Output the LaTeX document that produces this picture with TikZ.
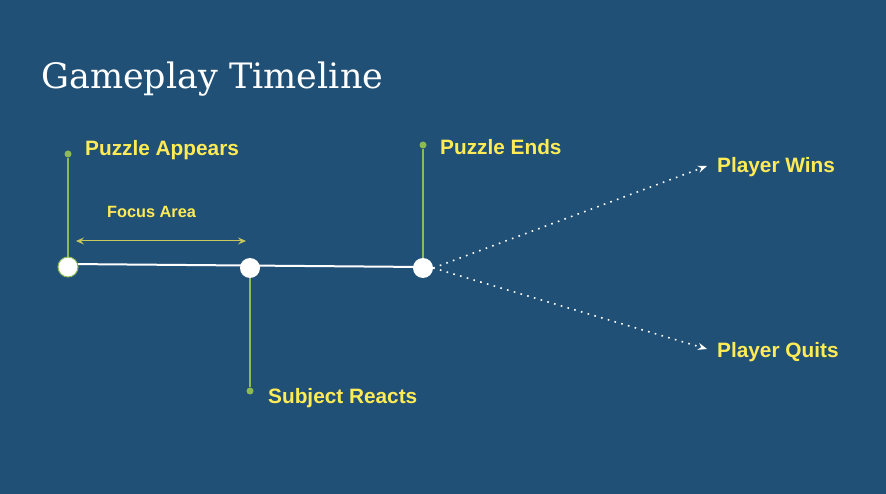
\documentclass[tikz,border=0pt]{standalone}
\usepackage{fontspec}
\setmainfont{DejaVu Serif}
\newfontfamily\labelfont{Liberation Sans}
\usetikzlibrary{arrows.meta}
\definecolor{bg}{RGB}{33,80,118}
\definecolor{ylw}{RGB}{255,235,85}
\definecolor{grn}{RGB}{141,185,87}
\definecolor{olv}{RGB}{200,200,95}
\tikzset{
  lbl/.style={anchor=west,inner sep=0pt,text=ylw,font=\labelfont\bfseries\fontsize{20.8}{24}\selectfont},
  small/.style={anchor=west,inner sep=0pt,text=ylw,font=\labelfont\bfseries\fontsize{16.3}{18}\selectfont},
  ev/.style={circle,fill=white,minimum size=20pt,inner sep=0pt},
  dotp/.style={circle,fill=grn,minimum size=7pt,inner sep=0pt},
  stem/.style={draw=grn,line width=1.8pt},
  dots/.style={draw=white,line width=1.6pt,dash pattern=on 1.6pt off 5.4pt,-{Stealth[length=9pt,width=7pt]}},
}
\begin{document}
\begin{tikzpicture}[x=1pt,y=-1pt]
\fill[bg] (0,0) rectangle (886,494);
\useasboundingbox (0,0) rectangle (886,494);
\node[anchor=west,inner sep=0pt,text=white,font=\fontsize{35}{40}\selectfont] (title) at (41,79) {Gameplay Timeline};
% dots at stem ends
\node[dotp] (pa) at (68,154) {};
\node[dotp] (sr) at (250,391) {};
\node[dotp] (pe) at (423,145) {};
% event points
\coordinate (la) at (68,264);
\coordinate (lc) at (423,267);
\draw[stem] (pa) -- (68,267);
\draw[stem] (sr) -- (250,268);
\draw[stem] (pe) -- (423,268);
\draw[white,line width=2pt] (la) -- (lc);
\node[ev,draw=grn,line width=1pt] (a) at (68,267) {};
\node[ev] (b) at (250,268) {};
\node[ev] (c) at (423,268) {};
% focus area
\coordinate (fa1) at (76,241);
\coordinate (fa2) at (246,241);
\draw[olv,line width=1pt,{Stealth[length=8pt,width=7pt,inset=3pt]}-{Stealth[length=8pt,width=7pt,inset=3pt]}] (fa1) -- (fa2);
\node[small] (focus) at (107,212) {Focus Area};
% outcomes
\coordinate (w) at (707,166);
\coordinate (q) at (707,349);
\draw[dots] (c.east) -- (w);
\draw[dots] (c.east) -- (q);
% labels
\node[lbl] (tpa) at (85,150) {Puzzle Appears};
\node[lbl] (tpe) at (440,147) {Puzzle Ends};
\node[lbl] (tsr) at (268,398) {Subject Reacts};
\node[lbl] (tw) at (717,167) {Player Wins};
\node[lbl] (tq) at (717,352) {Player Quits};
\end{tikzpicture}
\end{document}
